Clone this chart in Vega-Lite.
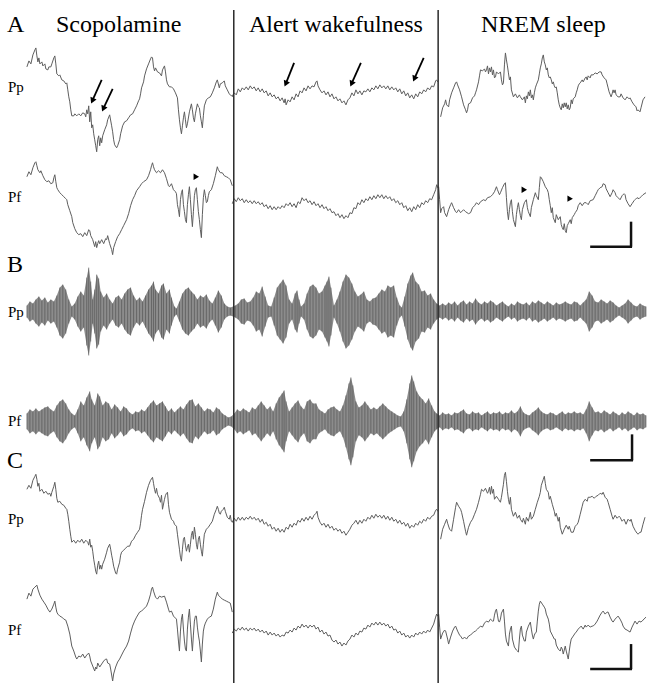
{
"$schema":"https://vega.github.io/schema/vega-lite/v6.json",
"width":648,"height":684,"padding":0,
"autosize":{"type":"fit","contains":"padding"},
"config":{"view":{"stroke":null},"background":"white"},
"datasets":{
"div":[{"x":234.5,"y":10,"y2":684},{"x":439.5,"y":10,"y2":684}],
"bars":[{"x":633,"y":222,"x2":633,"y2":247},{"x":592,"y":247,"x2":634,"y2":247},{"x":634,"y":435,"x2":634,"y2":461},{"x":592,"y":461,"x2":635,"y2":461},{"x":633,"y":645,"x2":633,"y2":670},{"x":592,"y":670,"x2":634,"y2":670}],
"arrows":[{"x":102,"y":80,"x2":93,"y2":100},{"x":113,"y":89,"x2":104,"y2":108},{"x":295,"y":63,"x2":287,"y2":83},{"x":362,"y":63,"x2":353,"y2":83},{"x":425,"y":58,"x2":416,"y2":78}],
"heads":[{"x":196,"y":177},{"x":525,"y":190},{"x":571,"y":199}],
"titles":[{"t":"Scopolamine","x":119,"y":32},{"t":"Alert wakefulness","x":337,"y":32},{"t":"NREM sleep","x":545,"y":32}],
"letters":[{"t":"A","x":7,"y":32},{"t":"B","x":7,"y":272},{"t":"C","x":7,"y":469}],
"chans":[{"t":"Pp","x":8,"y":92},{"t":"Pf","x":8,"y":202},{"t":"Pp","x":8,"y":317},{"t":"Pf","x":8,"y":427},{"t":"Pp","x":8,"y":525},{"t":"Pf","x":8,"y":636}],
"band":[
{"s":"Pp","x":27,"t":306,"b":318},{"s":"Pp","x":30,"t":302,"b":322},{"s":"Pp","x":33,"t":304,"b":320},{"s":"Pp","x":36,"t":300,"b":324},{"s":"Pp","x":39,"t":297,"b":327},{"s":"Pp","x":42,"t":301,"b":323},{"s":"Pp","x":45,"t":298,"b":326},{"s":"Pp","x":48,"t":303,"b":321},{"s":"Pp","x":51,"t":300,"b":324},{"s":"Pp","x":54,"t":302,"b":322},{"s":"Pp","x":57,"t":296,"b":328},{"s":"Pp","x":60,"t":288,"b":336},{"s":"Pp","x":63,"t":285,"b":339},{"s":"Pp","x":66,"t":290,"b":334},{"s":"Pp","x":69,"t":300,"b":324},{"s":"Pp","x":72,"t":307,"b":317},{"s":"Pp","x":75,"t":304,"b":320},{"s":"Pp","x":78,"t":297,"b":327},{"s":"Pp","x":81,"t":292,"b":332},{"s":"Pp","x":84,"t":296,"b":328},{"s":"Pp","x":87,"t":278,"b":346},{"s":"Pp","x":89,"t":268,"b":356},{"s":"Pp","x":91,"t":282,"b":342},{"s":"Pp","x":93,"t":300,"b":324},{"s":"Pp","x":95,"t":290,"b":334},{"s":"Pp","x":97,"t":275,"b":349},{"s":"Pp","x":99,"t":279,"b":345},{"s":"Pp","x":101,"t":292,"b":332},{"s":"Pp","x":104,"t":298,"b":326},{"s":"Pp","x":107,"t":294,"b":330},{"s":"Pp","x":110,"t":300,"b":324},{"s":"Pp","x":113,"t":304,"b":320},{"s":"Pp","x":116,"t":298,"b":326},{"s":"Pp","x":119,"t":296,"b":328},{"s":"Pp","x":122,"t":300,"b":324},{"s":"Pp","x":125,"t":294,"b":330},{"s":"Pp","x":128,"t":290,"b":334},{"s":"Pp","x":131,"t":288,"b":336},{"s":"Pp","x":134,"t":296,"b":328},{"s":"Pp","x":137,"t":301,"b":323},{"s":"Pp","x":140,"t":298,"b":326},{"s":"Pp","x":143,"t":302,"b":322},{"s":"Pp","x":146,"t":296,"b":328},{"s":"Pp","x":149,"t":290,"b":334},{"s":"Pp","x":152,"t":286,"b":338},{"s":"Pp","x":154,"t":282,"b":342},{"s":"Pp","x":156,"t":290,"b":334},{"s":"Pp","x":159,"t":294,"b":330},{"s":"Pp","x":162,"t":286,"b":338},{"s":"Pp","x":164,"t":284,"b":340},{"s":"Pp","x":167,"t":294,"b":330},{"s":"Pp","x":170,"t":290,"b":334},{"s":"Pp","x":172,"t":298,"b":326},{"s":"Pp","x":175,"t":307,"b":317},{"s":"Pp","x":177,"t":309,"b":315},{"s":"Pp","x":180,"t":302,"b":322},{"s":"Pp","x":183,"t":294,"b":330},{"s":"Pp","x":186,"t":290,"b":334},{"s":"Pp","x":189,"t":288,"b":336},{"s":"Pp","x":192,"t":292,"b":332},{"s":"Pp","x":195,"t":295,"b":329},{"s":"Pp","x":198,"t":300,"b":324},{"s":"Pp","x":201,"t":296,"b":328},{"s":"Pp","x":204,"t":298,"b":326},{"s":"Pp","x":207,"t":295,"b":329},{"s":"Pp","x":210,"t":301,"b":323},{"s":"Pp","x":213,"t":304,"b":320},{"s":"Pp","x":216,"t":298,"b":326},{"s":"Pp","x":219,"t":291,"b":333},{"s":"Pp","x":222,"t":296,"b":328},{"s":"Pp","x":225,"t":304,"b":320},{"s":"Pp","x":228,"t":307,"b":317},{"s":"Pp","x":231,"t":308,"b":316},{"s":"Pp","x":234,"t":307,"b":317},
{"s":"Pp","x":236,"t":306,"b":318},{"s":"Pp","x":239,"t":304,"b":320},{"s":"Pp","x":242,"t":300,"b":324},{"s":"Pp","x":245,"t":299,"b":325},{"s":"Pp","x":248,"t":303,"b":321},{"s":"Pp","x":251,"t":302,"b":322},{"s":"Pp","x":254,"t":298,"b":326},{"s":"Pp","x":257,"t":292,"b":332},{"s":"Pp","x":260,"t":294,"b":330},{"s":"Pp","x":263,"t":287,"b":337},{"s":"Pp","x":266,"t":297,"b":327},{"s":"Pp","x":269,"t":306,"b":318},{"s":"Pp","x":272,"t":307,"b":317},{"s":"Pp","x":275,"t":298,"b":326},{"s":"Pp","x":278,"t":288,"b":336},{"s":"Pp","x":281,"t":284,"b":340},{"s":"Pp","x":284,"t":280,"b":344},{"s":"Pp","x":287,"t":286,"b":338},{"s":"Pp","x":290,"t":300,"b":324},{"s":"Pp","x":293,"t":304,"b":320},{"s":"Pp","x":296,"t":294,"b":330},{"s":"Pp","x":298,"t":291,"b":333},{"s":"Pp","x":300,"t":300,"b":324},{"s":"Pp","x":302,"t":307,"b":317},{"s":"Pp","x":305,"t":304,"b":320},{"s":"Pp","x":308,"t":294,"b":330},{"s":"Pp","x":311,"t":287,"b":337},{"s":"Pp","x":314,"t":285,"b":339},{"s":"Pp","x":317,"t":288,"b":336},{"s":"Pp","x":320,"t":294,"b":330},{"s":"Pp","x":323,"t":292,"b":332},{"s":"Pp","x":326,"t":286,"b":338},{"s":"Pp","x":328,"t":282,"b":342},{"s":"Pp","x":330,"t":277,"b":347},{"s":"Pp","x":332,"t":288,"b":336},{"s":"Pp","x":335,"t":306,"b":318},{"s":"Pp","x":338,"t":300,"b":324},{"s":"Pp","x":341,"t":292,"b":332},{"s":"Pp","x":344,"t":282,"b":342},{"s":"Pp","x":347,"t":275,"b":349},{"s":"Pp","x":350,"t":278,"b":346},{"s":"Pp","x":353,"t":284,"b":340},{"s":"Pp","x":356,"t":292,"b":332},{"s":"Pp","x":359,"t":297,"b":327},{"s":"Pp","x":362,"t":295,"b":329},{"s":"Pp","x":365,"t":292,"b":332},{"s":"Pp","x":368,"t":300,"b":324},{"s":"Pp","x":371,"t":302,"b":322},{"s":"Pp","x":374,"t":299,"b":325},{"s":"Pp","x":377,"t":298,"b":326},{"s":"Pp","x":380,"t":294,"b":330},{"s":"Pp","x":383,"t":290,"b":334},{"s":"Pp","x":386,"t":292,"b":332},{"s":"Pp","x":389,"t":286,"b":338},{"s":"Pp","x":392,"t":288,"b":336},{"s":"Pp","x":395,"t":286,"b":338},{"s":"Pp","x":398,"t":298,"b":326},{"s":"Pp","x":401,"t":306,"b":318},{"s":"Pp","x":403,"t":308,"b":316},{"s":"Pp","x":406,"t":297,"b":327},{"s":"Pp","x":409,"t":284,"b":340},{"s":"Pp","x":412,"t":276,"b":348},{"s":"Pp","x":414,"t":273,"b":351},{"s":"Pp","x":417,"t":282,"b":342},{"s":"Pp","x":420,"t":285,"b":339},{"s":"Pp","x":423,"t":292,"b":332},{"s":"Pp","x":426,"t":291,"b":333},{"s":"Pp","x":429,"t":296,"b":328},{"s":"Pp","x":432,"t":294,"b":330},{"s":"Pp","x":435,"t":300,"b":324},{"s":"Pp","x":438,"t":304,"b":320},
{"s":"Pp","x":441,"t":306,"b":318},{"s":"Pp","x":444,"t":304,"b":320},{"s":"Pp","x":447,"t":306,"b":318},{"s":"Pp","x":450,"t":303,"b":321},{"s":"Pp","x":453,"t":305,"b":319},{"s":"Pp","x":456,"t":302,"b":322},{"s":"Pp","x":459,"t":306,"b":318},{"s":"Pp","x":462,"t":303,"b":321},{"s":"Pp","x":465,"t":301,"b":323},{"s":"Pp","x":468,"t":305,"b":319},{"s":"Pp","x":471,"t":302,"b":322},{"s":"Pp","x":474,"t":304,"b":320},{"s":"Pp","x":477,"t":299,"b":325},{"s":"Pp","x":480,"t":303,"b":321},{"s":"Pp","x":483,"t":305,"b":319},{"s":"Pp","x":486,"t":302,"b":322},{"s":"Pp","x":489,"t":304,"b":320},{"s":"Pp","x":492,"t":301,"b":323},{"s":"Pp","x":495,"t":303,"b":321},{"s":"Pp","x":498,"t":306,"b":318},{"s":"Pp","x":501,"t":304,"b":320},{"s":"Pp","x":504,"t":302,"b":322},{"s":"Pp","x":507,"t":305,"b":319},{"s":"Pp","x":510,"t":307,"b":317},{"s":"Pp","x":513,"t":304,"b":320},{"s":"Pp","x":516,"t":306,"b":318},{"s":"Pp","x":519,"t":302,"b":322},{"s":"Pp","x":522,"t":304,"b":320},{"s":"Pp","x":525,"t":305,"b":319},{"s":"Pp","x":528,"t":303,"b":321},{"s":"Pp","x":531,"t":306,"b":318},{"s":"Pp","x":534,"t":302,"b":322},{"s":"Pp","x":537,"t":304,"b":320},{"s":"Pp","x":540,"t":301,"b":323},{"s":"Pp","x":543,"t":303,"b":321},{"s":"Pp","x":546,"t":305,"b":319},{"s":"Pp","x":549,"t":302,"b":322},{"s":"Pp","x":552,"t":304,"b":320},{"s":"Pp","x":555,"t":306,"b":318},{"s":"Pp","x":558,"t":303,"b":321},{"s":"Pp","x":561,"t":305,"b":319},{"s":"Pp","x":564,"t":304,"b":320},{"s":"Pp","x":567,"t":302,"b":322},{"s":"Pp","x":570,"t":304,"b":320},{"s":"Pp","x":573,"t":305,"b":319},{"s":"Pp","x":576,"t":302,"b":322},{"s":"Pp","x":579,"t":303,"b":321},{"s":"Pp","x":582,"t":306,"b":318},{"s":"Pp","x":585,"t":303,"b":321},{"s":"Pp","x":588,"t":300,"b":324},{"s":"Pp","x":591,"t":292,"b":332},{"s":"Pp","x":594,"t":296,"b":328},{"s":"Pp","x":597,"t":302,"b":322},{"s":"Pp","x":600,"t":303,"b":321},{"s":"Pp","x":603,"t":300,"b":324},{"s":"Pp","x":606,"t":302,"b":322},{"s":"Pp","x":609,"t":304,"b":320},{"s":"Pp","x":612,"t":301,"b":323},{"s":"Pp","x":615,"t":303,"b":321},{"s":"Pp","x":618,"t":306,"b":318},{"s":"Pp","x":621,"t":308,"b":316},{"s":"Pp","x":624,"t":306,"b":318},{"s":"Pp","x":627,"t":304,"b":320},{"s":"Pp","x":630,"t":300,"b":324},{"s":"Pp","x":633,"t":303,"b":321},{"s":"Pp","x":636,"t":306,"b":318},{"s":"Pp","x":639,"t":307,"b":317},{"s":"Pp","x":642,"t":304,"b":320},{"s":"Pp","x":645,"t":306,"b":318},{"s":"Pp","x":648,"t":307,"b":317},
{"s":"Pf","x":27,"t":414,"b":430},{"s":"Pf","x":30,"t":410,"b":434},{"s":"Pf","x":33,"t":412,"b":432},{"s":"Pf","x":36,"t":409,"b":435},{"s":"Pf","x":39,"t":412,"b":432},{"s":"Pf","x":42,"t":410,"b":434},{"s":"Pf","x":45,"t":408,"b":436},{"s":"Pf","x":48,"t":407,"b":437},{"s":"Pf","x":51,"t":410,"b":434},{"s":"Pf","x":54,"t":412,"b":432},{"s":"Pf","x":57,"t":406,"b":438},{"s":"Pf","x":60,"t":402,"b":442},{"s":"Pf","x":63,"t":400,"b":444},{"s":"Pf","x":66,"t":404,"b":440},{"s":"Pf","x":69,"t":410,"b":434},{"s":"Pf","x":72,"t":414,"b":430},{"s":"Pf","x":75,"t":416,"b":428},{"s":"Pf","x":78,"t":410,"b":434},{"s":"Pf","x":81,"t":402,"b":442},{"s":"Pf","x":84,"t":406,"b":438},{"s":"Pf","x":87,"t":398,"b":446},{"s":"Pf","x":90,"t":392,"b":452},{"s":"Pf","x":92,"t":400,"b":444},{"s":"Pf","x":95,"t":406,"b":438},{"s":"Pf","x":98,"t":394,"b":450},{"s":"Pf","x":100,"t":397,"b":447},{"s":"Pf","x":103,"t":406,"b":438},{"s":"Pf","x":106,"t":402,"b":442},{"s":"Pf","x":109,"t":404,"b":440},{"s":"Pf","x":112,"t":410,"b":434},{"s":"Pf","x":115,"t":405,"b":439},{"s":"Pf","x":118,"t":408,"b":436},{"s":"Pf","x":121,"t":412,"b":432},{"s":"Pf","x":124,"t":407,"b":437},{"s":"Pf","x":127,"t":409,"b":435},{"s":"Pf","x":130,"t":413,"b":431},{"s":"Pf","x":133,"t":415,"b":429},{"s":"Pf","x":136,"t":412,"b":432},{"s":"Pf","x":139,"t":413,"b":431},{"s":"Pf","x":142,"t":410,"b":434},{"s":"Pf","x":145,"t":412,"b":432},{"s":"Pf","x":148,"t":408,"b":436},{"s":"Pf","x":151,"t":404,"b":440},{"s":"Pf","x":154,"t":401,"b":443},{"s":"Pf","x":157,"t":406,"b":438},{"s":"Pf","x":160,"t":404,"b":440},{"s":"Pf","x":163,"t":402,"b":442},{"s":"Pf","x":166,"t":407,"b":437},{"s":"Pf","x":169,"t":412,"b":432},{"s":"Pf","x":172,"t":409,"b":435},{"s":"Pf","x":175,"t":413,"b":431},{"s":"Pf","x":178,"t":410,"b":434},{"s":"Pf","x":181,"t":407,"b":437},{"s":"Pf","x":184,"t":410,"b":434},{"s":"Pf","x":187,"t":405,"b":439},{"s":"Pf","x":190,"t":401,"b":443},{"s":"Pf","x":193,"t":400,"b":444},{"s":"Pf","x":196,"t":407,"b":437},{"s":"Pf","x":199,"t":404,"b":440},{"s":"Pf","x":202,"t":408,"b":436},{"s":"Pf","x":205,"t":412,"b":432},{"s":"Pf","x":208,"t":409,"b":435},{"s":"Pf","x":211,"t":410,"b":434},{"s":"Pf","x":214,"t":413,"b":431},{"s":"Pf","x":217,"t":408,"b":436},{"s":"Pf","x":220,"t":410,"b":434},{"s":"Pf","x":223,"t":414,"b":430},{"s":"Pf","x":226,"t":416,"b":428},{"s":"Pf","x":229,"t":418,"b":426},{"s":"Pf","x":232,"t":417,"b":427},
{"s":"Pf","x":235,"t":414,"b":430},{"s":"Pf","x":238,"t":410,"b":434},{"s":"Pf","x":241,"t":412,"b":432},{"s":"Pf","x":244,"t":409,"b":435},{"s":"Pf","x":247,"t":411,"b":433},{"s":"Pf","x":250,"t":413,"b":431},{"s":"Pf","x":253,"t":408,"b":436},{"s":"Pf","x":256,"t":410,"b":434},{"s":"Pf","x":259,"t":406,"b":438},{"s":"Pf","x":262,"t":402,"b":442},{"s":"Pf","x":265,"t":406,"b":438},{"s":"Pf","x":268,"t":410,"b":434},{"s":"Pf","x":271,"t":407,"b":437},{"s":"Pf","x":274,"t":412,"b":432},{"s":"Pf","x":277,"t":404,"b":440},{"s":"Pf","x":280,"t":398,"b":446},{"s":"Pf","x":283,"t":394,"b":450},{"s":"Pf","x":285,"t":391,"b":453},{"s":"Pf","x":287,"t":402,"b":442},{"s":"Pf","x":290,"t":412,"b":432},{"s":"Pf","x":293,"t":408,"b":436},{"s":"Pf","x":296,"t":404,"b":440},{"s":"Pf","x":299,"t":401,"b":443},{"s":"Pf","x":302,"t":407,"b":437},{"s":"Pf","x":305,"t":410,"b":434},{"s":"Pf","x":308,"t":402,"b":442},{"s":"Pf","x":311,"t":400,"b":444},{"s":"Pf","x":314,"t":404,"b":440},{"s":"Pf","x":317,"t":404,"b":440},{"s":"Pf","x":320,"t":410,"b":434},{"s":"Pf","x":323,"t":412,"b":432},{"s":"Pf","x":326,"t":414,"b":430},{"s":"Pf","x":329,"t":410,"b":434},{"s":"Pf","x":332,"t":408,"b":436},{"s":"Pf","x":335,"t":407,"b":437},{"s":"Pf","x":338,"t":410,"b":434},{"s":"Pf","x":341,"t":412,"b":432},{"s":"Pf","x":344,"t":406,"b":438},{"s":"Pf","x":347,"t":396,"b":448},{"s":"Pf","x":350,"t":384,"b":460},{"s":"Pf","x":352,"t":378,"b":466},{"s":"Pf","x":354,"t":386,"b":458},{"s":"Pf","x":357,"t":402,"b":442},{"s":"Pf","x":360,"t":408,"b":436},{"s":"Pf","x":363,"t":406,"b":438},{"s":"Pf","x":366,"t":402,"b":442},{"s":"Pf","x":369,"t":406,"b":438},{"s":"Pf","x":372,"t":410,"b":434},{"s":"Pf","x":375,"t":408,"b":436},{"s":"Pf","x":378,"t":410,"b":434},{"s":"Pf","x":381,"t":407,"b":437},{"s":"Pf","x":384,"t":404,"b":440},{"s":"Pf","x":387,"t":407,"b":437},{"s":"Pf","x":390,"t":410,"b":434},{"s":"Pf","x":393,"t":412,"b":432},{"s":"Pf","x":396,"t":414,"b":430},{"s":"Pf","x":399,"t":416,"b":428},{"s":"Pf","x":402,"t":417,"b":427},{"s":"Pf","x":405,"t":412,"b":432},{"s":"Pf","x":408,"t":400,"b":444},{"s":"Pf","x":411,"t":384,"b":460},{"s":"Pf","x":413,"t":376,"b":468},{"s":"Pf","x":415,"t":382,"b":462},{"s":"Pf","x":418,"t":392,"b":452},{"s":"Pf","x":421,"t":397,"b":447},{"s":"Pf","x":424,"t":400,"b":444},{"s":"Pf","x":427,"t":404,"b":440},{"s":"Pf","x":430,"t":399,"b":445},{"s":"Pf","x":433,"t":406,"b":438},{"s":"Pf","x":436,"t":412,"b":432},{"s":"Pf","x":438,"t":414,"b":430},
{"s":"Pf","x":441,"t":416,"b":428},{"s":"Pf","x":444,"t":413,"b":431},{"s":"Pf","x":447,"t":415,"b":429},{"s":"Pf","x":450,"t":414,"b":430},{"s":"Pf","x":453,"t":416,"b":428},{"s":"Pf","x":456,"t":413,"b":431},{"s":"Pf","x":459,"t":414,"b":430},{"s":"Pf","x":462,"t":412,"b":432},{"s":"Pf","x":465,"t":410,"b":434},{"s":"Pf","x":468,"t":414,"b":430},{"s":"Pf","x":471,"t":415,"b":429},{"s":"Pf","x":474,"t":412,"b":432},{"s":"Pf","x":477,"t":414,"b":430},{"s":"Pf","x":480,"t":413,"b":431},{"s":"Pf","x":483,"t":416,"b":428},{"s":"Pf","x":486,"t":414,"b":430},{"s":"Pf","x":489,"t":412,"b":432},{"s":"Pf","x":492,"t":415,"b":429},{"s":"Pf","x":495,"t":413,"b":431},{"s":"Pf","x":498,"t":414,"b":430},{"s":"Pf","x":501,"t":412,"b":432},{"s":"Pf","x":504,"t":415,"b":429},{"s":"Pf","x":507,"t":413,"b":431},{"s":"Pf","x":510,"t":414,"b":430},{"s":"Pf","x":513,"t":411,"b":433},{"s":"Pf","x":516,"t":414,"b":430},{"s":"Pf","x":519,"t":412,"b":432},{"s":"Pf","x":522,"t":407,"b":437},{"s":"Pf","x":525,"t":413,"b":431},{"s":"Pf","x":528,"t":415,"b":429},{"s":"Pf","x":531,"t":416,"b":428},{"s":"Pf","x":534,"t":413,"b":431},{"s":"Pf","x":537,"t":411,"b":433},{"s":"Pf","x":540,"t":408,"b":436},{"s":"Pf","x":543,"t":412,"b":432},{"s":"Pf","x":546,"t":414,"b":430},{"s":"Pf","x":549,"t":415,"b":429},{"s":"Pf","x":552,"t":413,"b":431},{"s":"Pf","x":555,"t":414,"b":430},{"s":"Pf","x":558,"t":416,"b":428},{"s":"Pf","x":561,"t":414,"b":430},{"s":"Pf","x":564,"t":412,"b":432},{"s":"Pf","x":567,"t":415,"b":429},{"s":"Pf","x":570,"t":413,"b":431},{"s":"Pf","x":573,"t":414,"b":430},{"s":"Pf","x":576,"t":412,"b":432},{"s":"Pf","x":579,"t":414,"b":430},{"s":"Pf","x":582,"t":413,"b":431},{"s":"Pf","x":585,"t":415,"b":429},{"s":"Pf","x":588,"t":410,"b":434},{"s":"Pf","x":591,"t":402,"b":442},{"s":"Pf","x":594,"t":408,"b":436},{"s":"Pf","x":597,"t":413,"b":431},{"s":"Pf","x":600,"t":412,"b":432},{"s":"Pf","x":603,"t":414,"b":430},{"s":"Pf","x":606,"t":411,"b":433},{"s":"Pf","x":609,"t":413,"b":431},{"s":"Pf","x":612,"t":415,"b":429},{"s":"Pf","x":615,"t":412,"b":432},{"s":"Pf","x":618,"t":414,"b":430},{"s":"Pf","x":621,"t":416,"b":428},{"s":"Pf","x":624,"t":413,"b":431},{"s":"Pf","x":627,"t":415,"b":429},{"s":"Pf","x":630,"t":412,"b":432},{"s":"Pf","x":633,"t":414,"b":430},{"s":"Pf","x":636,"t":416,"b":428},{"s":"Pf","x":639,"t":413,"b":431},{"s":"Pf","x":642,"t":415,"b":429},{"s":"Pf","x":645,"t":414,"b":430},{"s":"Pf","x":648,"t":416,"b":428}
],
"tr":[
{"s":"APpS","x":27,"y":67},{"s":"APpS","x":29,"y":61},{"s":"APpS","x":31,"y":64},{"s":"APpS","x":33,"y":55},{"s":"APpS","x":35,"y":50},{"s":"APpS","x":36,"y":48},{"s":"APpS","x":37,"y":56},{"s":"APpS","x":38,"y":62},{"s":"APpS","x":39,"y":58},{"s":"APpS","x":40,"y":64},{"s":"APpS","x":42,"y":62},{"s":"APpS","x":43,"y":66},{"s":"APpS","x":45,"y":64},{"s":"APpS","x":46,"y":69},{"s":"APpS","x":48,"y":70},{"s":"APpS","x":49,"y":67},{"s":"APpS","x":51,"y":67},{"s":"APpS","x":52,"y":64},{"s":"APpS","x":54,"y":58},{"s":"APpS","x":55,"y":56},{"s":"APpS","x":56,"y":64},{"s":"APpS","x":57,"y":74},{"s":"APpS","x":59,"y":76},{"s":"APpS","x":60,"y":75},{"s":"APpS","x":62,"y":80},{"s":"APpS","x":64,"y":81},{"s":"APpS","x":66,"y":84},{"s":"APpS","x":67,"y":83},{"s":"APpS","x":68,"y":90},{"s":"APpS","x":69,"y":97},{"s":"APpS","x":70,"y":102},{"s":"APpS","x":71,"y":110},{"s":"APpS","x":72,"y":116},{"s":"APpS","x":74,"y":116},{"s":"APpS","x":75,"y":114},{"s":"APpS","x":77,"y":116},{"s":"APpS","x":79,"y":114},{"s":"APpS","x":81,"y":116},{"s":"APpS","x":83,"y":113},{"s":"APpS","x":85,"y":114},{"s":"APpS","x":86,"y":117},{"s":"APpS","x":87,"y":110},{"s":"APpS","x":88,"y":114},{"s":"APpS","x":89,"y":106},{"s":"APpS","x":90,"y":122},{"s":"APpS","x":91,"y":112},{"s":"APpS","x":92,"y":128},{"s":"APpS","x":93,"y":125},{"s":"APpS","x":94,"y":134},{"s":"APpS","x":95,"y":140},{"s":"APpS","x":96,"y":146},{"s":"APpS","x":97,"y":152},{"s":"APpS","x":98,"y":140},{"s":"APpS","x":99,"y":136},{"s":"APpS","x":100,"y":146},{"s":"APpS","x":101,"y":138},{"s":"APpS","x":102,"y":143},{"s":"APpS","x":103,"y":136},{"s":"APpS","x":105,"y":130},{"s":"APpS","x":107,"y":125},{"s":"APpS","x":108,"y":120},{"s":"APpS","x":110,"y":115},{"s":"APpS","x":112,"y":126},{"s":"APpS","x":113,"y":132},{"s":"APpS","x":114,"y":140},{"s":"APpS","x":115,"y":145},{"s":"APpS","x":117,"y":148},{"s":"APpS","x":118,"y":146},{"s":"APpS","x":120,"y":140},{"s":"APpS","x":121,"y":134},{"s":"APpS","x":123,"y":126},{"s":"APpS","x":125,"y":122},{"s":"APpS","x":127,"y":121},{"s":"APpS","x":129,"y":118},{"s":"APpS","x":131,"y":115},{"s":"APpS","x":133,"y":114},{"s":"APpS","x":135,"y":110},{"s":"APpS","x":137,"y":106},{"s":"APpS","x":139,"y":101},{"s":"APpS","x":140,"y":99},{"s":"APpS","x":141,"y":94},{"s":"APpS","x":142,"y":88},{"s":"APpS","x":144,"y":82},{"s":"APpS","x":145,"y":76},{"s":"APpS","x":147,"y":69},{"s":"APpS","x":149,"y":64},{"s":"APpS","x":151,"y":59},{"s":"APpS","x":152,"y":57},{"s":"APpS","x":153,"y":58},{"s":"APpS","x":154,"y":67},{"s":"APpS","x":155,"y":71},{"s":"APpS","x":156,"y":68},{"s":"APpS","x":158,"y":72},{"s":"APpS","x":160,"y":73},{"s":"APpS","x":162,"y":76},{"s":"APpS","x":163,"y":70},{"s":"APpS","x":165,"y":66},{"s":"APpS","x":166,"y":72},{"s":"APpS","x":167,"y":80},{"s":"APpS","x":168,"y":84},{"s":"APpS","x":170,"y":87},{"s":"APpS","x":172,"y":87},{"s":"APpS","x":174,"y":89},{"s":"APpS","x":176,"y":93},{"s":"APpS","x":178,"y":98},{"s":"APpS","x":179,"y":110},{"s":"APpS","x":180,"y":120},{"s":"APpS","x":181,"y":128},{"s":"APpS","x":182,"y":134},{"s":"APpS","x":183,"y":126},{"s":"APpS","x":184,"y":118},{"s":"APpS","x":185,"y":112},{"s":"APpS","x":186,"y":120},{"s":"APpS","x":187,"y":128},{"s":"APpS","x":188,"y":124},{"s":"APpS","x":190,"y":112},{"s":"APpS","x":192,"y":104},{"s":"APpS","x":193,"y":110},{"s":"APpS","x":194,"y":118},{"s":"APpS","x":195,"y":122},{"s":"APpS","x":196,"y":114},{"s":"APpS","x":198,"y":104},{"s":"APpS","x":199,"y":107},{"s":"APpS","x":200,"y":108},{"s":"APpS","x":201,"y":116},{"s":"APpS","x":202,"y":122},{"s":"APpS","x":203,"y":128},{"s":"APpS","x":204,"y":116},{"s":"APpS","x":205,"y":106},{"s":"APpS","x":207,"y":100},{"s":"APpS","x":209,"y":98},{"s":"APpS","x":211,"y":97},{"s":"APpS","x":213,"y":93},{"s":"APpS","x":215,"y":88},{"s":"APpS","x":217,"y":82},{"s":"APpS","x":218,"y":80},{"s":"APpS","x":220,"y":88},{"s":"APpS","x":221,"y":84},{"s":"APpS","x":223,"y":83},{"s":"APpS","x":225,"y":81},{"s":"APpS","x":226,"y":86},{"s":"APpS","x":228,"y":90},{"s":"APpS","x":230,"y":94},{"s":"APpS","x":232,"y":96},{"s":"APpS","x":234,"y":95},
{"s":"APfS","x":27,"y":177},{"s":"APfS","x":29,"y":172},{"s":"APfS","x":31,"y":175},{"s":"APfS","x":33,"y":168},{"s":"APfS","x":35,"y":163},{"s":"APfS","x":36,"y":162},{"s":"APfS","x":37,"y":166},{"s":"APfS","x":38,"y":170},{"s":"APfS","x":40,"y":173},{"s":"APfS","x":41,"y":171},{"s":"APfS","x":43,"y":176},{"s":"APfS","x":45,"y":180},{"s":"APfS","x":47,"y":182},{"s":"APfS","x":49,"y":181},{"s":"APfS","x":51,"y":184},{"s":"APfS","x":53,"y":183},{"s":"APfS","x":54,"y":178},{"s":"APfS","x":55,"y":175},{"s":"APfS","x":56,"y":182},{"s":"APfS","x":57,"y":188},{"s":"APfS","x":58,"y":190},{"s":"APfS","x":60,"y":193},{"s":"APfS","x":62,"y":195},{"s":"APfS","x":64,"y":197},{"s":"APfS","x":66,"y":199},{"s":"APfS","x":67,"y":200},{"s":"APfS","x":68,"y":205},{"s":"APfS","x":70,"y":211},{"s":"APfS","x":72,"y":217},{"s":"APfS","x":73,"y":223},{"s":"APfS","x":75,"y":229},{"s":"APfS","x":77,"y":233},{"s":"APfS","x":79,"y":235},{"s":"APfS","x":81,"y":234},{"s":"APfS","x":83,"y":237},{"s":"APfS","x":85,"y":233},{"s":"APfS","x":87,"y":236},{"s":"APfS","x":89,"y":230},{"s":"APfS","x":90,"y":231},{"s":"APfS","x":91,"y":236},{"s":"APfS","x":93,"y":240},{"s":"APfS","x":95,"y":247},{"s":"APfS","x":96,"y":242},{"s":"APfS","x":97,"y":248},{"s":"APfS","x":98,"y":244},{"s":"APfS","x":99,"y":241},{"s":"APfS","x":100,"y":244},{"s":"APfS","x":102,"y":240},{"s":"APfS","x":104,"y":244},{"s":"APfS","x":106,"y":239},{"s":"APfS","x":107,"y":240},{"s":"APfS","x":108,"y":236},{"s":"APfS","x":110,"y":244},{"s":"APfS","x":112,"y":250},{"s":"APfS","x":113,"y":255},{"s":"APfS","x":114,"y":248},{"s":"APfS","x":116,"y":242},{"s":"APfS","x":118,"y":237},{"s":"APfS","x":120,"y":234},{"s":"APfS","x":122,"y":230},{"s":"APfS","x":124,"y":226},{"s":"APfS","x":127,"y":220},{"s":"APfS","x":129,"y":214},{"s":"APfS","x":131,"y":206},{"s":"APfS","x":133,"y":200},{"s":"APfS","x":135,"y":196},{"s":"APfS","x":137,"y":191},{"s":"APfS","x":140,"y":187},{"s":"APfS","x":142,"y":184},{"s":"APfS","x":144,"y":182},{"s":"APfS","x":147,"y":180},{"s":"APfS","x":149,"y":176},{"s":"APfS","x":151,"y":170},{"s":"APfS","x":152,"y":166},{"s":"APfS","x":153,"y":163},{"s":"APfS","x":154,"y":167},{"s":"APfS","x":155,"y":170},{"s":"APfS","x":157,"y":173},{"s":"APfS","x":159,"y":171},{"s":"APfS","x":161,"y":173},{"s":"APfS","x":163,"y":170},{"s":"APfS","x":165,"y":173},{"s":"APfS","x":167,"y":179},{"s":"APfS","x":169,"y":186},{"s":"APfS","x":170,"y":187},{"s":"APfS","x":172,"y":184},{"s":"APfS","x":174,"y":190},{"s":"APfS","x":176,"y":192},{"s":"APfS","x":177,"y":194},{"s":"APfS","x":178,"y":205},{"s":"APfS","x":179,"y":210},{"s":"APfS","x":180,"y":217},{"s":"APfS","x":181,"y":200},{"s":"APfS","x":182,"y":193},{"s":"APfS","x":183,"y":190},{"s":"APfS","x":184,"y":205},{"s":"APfS","x":185,"y":212},{"s":"APfS","x":186,"y":220},{"s":"APfS","x":187,"y":223},{"s":"APfS","x":188,"y":205},{"s":"APfS","x":189,"y":195},{"s":"APfS","x":190,"y":187},{"s":"APfS","x":191,"y":200},{"s":"APfS","x":192,"y":215},{"s":"APfS","x":193,"y":227},{"s":"APfS","x":194,"y":212},{"s":"APfS","x":195,"y":196},{"s":"APfS","x":196,"y":190},{"s":"APfS","x":197,"y":188},{"s":"APfS","x":198,"y":200},{"s":"APfS","x":199,"y":212},{"s":"APfS","x":200,"y":220},{"s":"APfS","x":201,"y":230},{"s":"APfS","x":202,"y":238},{"s":"APfS","x":203,"y":215},{"s":"APfS","x":204,"y":198},{"s":"APfS","x":205,"y":190},{"s":"APfS","x":206,"y":196},{"s":"APfS","x":207,"y":203},{"s":"APfS","x":208,"y":202},{"s":"APfS","x":209,"y":196},{"s":"APfS","x":210,"y":192},{"s":"APfS","x":212,"y":190},{"s":"APfS","x":214,"y":184},{"s":"APfS","x":216,"y":176},{"s":"APfS","x":218,"y":167},{"s":"APfS","x":219,"y":170},{"s":"APfS","x":221,"y":173},{"s":"APfS","x":223,"y":173},{"s":"APfS","x":225,"y":176},{"s":"APfS","x":227,"y":177},{"s":"APfS","x":229,"y":178},{"s":"APfS","x":231,"y":180},{"s":"APfS","x":233,"y":186},
{"s":"APpW","x":233,"y":97},{"s":"APpW","x":235,"y":93},{"s":"APpW","x":237,"y":95},{"s":"APpW","x":239,"y":89},{"s":"APpW","x":241,"y":92},{"s":"APpW","x":243,"y":88},{"s":"APpW","x":245,"y":90},{"s":"APpW","x":247,"y":87},{"s":"APpW","x":249,"y":90},{"s":"APpW","x":251,"y":86},{"s":"APpW","x":253,"y":89},{"s":"APpW","x":255,"y":87},{"s":"APpW","x":257,"y":91},{"s":"APpW","x":259,"y":88},{"s":"APpW","x":261,"y":92},{"s":"APpW","x":263,"y":89},{"s":"APpW","x":265,"y":93},{"s":"APpW","x":267,"y":91},{"s":"APpW","x":269,"y":96},{"s":"APpW","x":271,"y":93},{"s":"APpW","x":273,"y":97},{"s":"APpW","x":275,"y":95},{"s":"APpW","x":277,"y":99},{"s":"APpW","x":279,"y":97},{"s":"APpW","x":281,"y":101},{"s":"APpW","x":283,"y":98},{"s":"APpW","x":285,"y":103},{"s":"APpW","x":286,"y":99},{"s":"APpW","x":287,"y":105},{"s":"APpW","x":289,"y":100},{"s":"APpW","x":291,"y":102},{"s":"APpW","x":293,"y":97},{"s":"APpW","x":295,"y":100},{"s":"APpW","x":297,"y":94},{"s":"APpW","x":299,"y":97},{"s":"APpW","x":301,"y":91},{"s":"APpW","x":303,"y":93},{"s":"APpW","x":305,"y":88},{"s":"APpW","x":307,"y":91},{"s":"APpW","x":309,"y":86},{"s":"APpW","x":311,"y":89},{"s":"APpW","x":313,"y":86},{"s":"APpW","x":315,"y":87},{"s":"APpW","x":317,"y":82},{"s":"APpW","x":318,"y":81},{"s":"APpW","x":319,"y":86},{"s":"APpW","x":321,"y":90},{"s":"APpW","x":323,"y":93},{"s":"APpW","x":325,"y":91},{"s":"APpW","x":327,"y":95},{"s":"APpW","x":329,"y":92},{"s":"APpW","x":331,"y":97},{"s":"APpW","x":333,"y":94},{"s":"APpW","x":335,"y":99},{"s":"APpW","x":337,"y":97},{"s":"APpW","x":339,"y":101},{"s":"APpW","x":341,"y":99},{"s":"APpW","x":343,"y":103},{"s":"APpW","x":345,"y":101},{"s":"APpW","x":347,"y":105},{"s":"APpW","x":349,"y":100},{"s":"APpW","x":351,"y":98},{"s":"APpW","x":353,"y":93},{"s":"APpW","x":355,"y":96},{"s":"APpW","x":357,"y":90},{"s":"APpW","x":359,"y":94},{"s":"APpW","x":361,"y":91},{"s":"APpW","x":363,"y":95},{"s":"APpW","x":365,"y":91},{"s":"APpW","x":367,"y":92},{"s":"APpW","x":369,"y":89},{"s":"APpW","x":371,"y":92},{"s":"APpW","x":373,"y":88},{"s":"APpW","x":375,"y":90},{"s":"APpW","x":377,"y":86},{"s":"APpW","x":379,"y":89},{"s":"APpW","x":381,"y":85},{"s":"APpW","x":383,"y":88},{"s":"APpW","x":385,"y":86},{"s":"APpW","x":387,"y":89},{"s":"APpW","x":389,"y":86},{"s":"APpW","x":391,"y":90},{"s":"APpW","x":393,"y":87},{"s":"APpW","x":395,"y":90},{"s":"APpW","x":397,"y":88},{"s":"APpW","x":399,"y":92},{"s":"APpW","x":401,"y":89},{"s":"APpW","x":403,"y":94},{"s":"APpW","x":405,"y":91},{"s":"APpW","x":407,"y":96},{"s":"APpW","x":409,"y":93},{"s":"APpW","x":411,"y":98},{"s":"APpW","x":413,"y":95},{"s":"APpW","x":415,"y":99},{"s":"APpW","x":417,"y":94},{"s":"APpW","x":419,"y":97},{"s":"APpW","x":421,"y":92},{"s":"APpW","x":423,"y":94},{"s":"APpW","x":425,"y":90},{"s":"APpW","x":427,"y":92},{"s":"APpW","x":429,"y":88},{"s":"APpW","x":431,"y":90},{"s":"APpW","x":433,"y":86},{"s":"APpW","x":435,"y":87},{"s":"APpW","x":437,"y":81},{"s":"APpW","x":438,"y":80},{"s":"APpW","x":439,"y":82},
{"s":"APfW","x":233,"y":204},{"s":"APfW","x":235,"y":199},{"s":"APfW","x":237,"y":202},{"s":"APfW","x":239,"y":198},{"s":"APfW","x":241,"y":201},{"s":"APfW","x":243,"y":199},{"s":"APfW","x":245,"y":203},{"s":"APfW","x":247,"y":200},{"s":"APfW","x":249,"y":203},{"s":"APfW","x":251,"y":201},{"s":"APfW","x":253,"y":204},{"s":"APfW","x":255,"y":201},{"s":"APfW","x":257,"y":204},{"s":"APfW","x":259,"y":202},{"s":"APfW","x":261,"y":205},{"s":"APfW","x":263,"y":203},{"s":"APfW","x":265,"y":207},{"s":"APfW","x":267,"y":205},{"s":"APfW","x":269,"y":209},{"s":"APfW","x":271,"y":206},{"s":"APfW","x":273,"y":210},{"s":"APfW","x":275,"y":207},{"s":"APfW","x":277,"y":210},{"s":"APfW","x":279,"y":207},{"s":"APfW","x":281,"y":209},{"s":"APfW","x":283,"y":206},{"s":"APfW","x":285,"y":208},{"s":"APfW","x":287,"y":204},{"s":"APfW","x":289,"y":206},{"s":"APfW","x":291,"y":203},{"s":"APfW","x":293,"y":207},{"s":"APfW","x":295,"y":204},{"s":"APfW","x":297,"y":208},{"s":"APfW","x":299,"y":202},{"s":"APfW","x":301,"y":204},{"s":"APfW","x":303,"y":198},{"s":"APfW","x":305,"y":201},{"s":"APfW","x":307,"y":199},{"s":"APfW","x":309,"y":203},{"s":"APfW","x":311,"y":201},{"s":"APfW","x":313,"y":205},{"s":"APfW","x":315,"y":202},{"s":"APfW","x":317,"y":206},{"s":"APfW","x":319,"y":204},{"s":"APfW","x":321,"y":208},{"s":"APfW","x":323,"y":205},{"s":"APfW","x":325,"y":209},{"s":"APfW","x":327,"y":207},{"s":"APfW","x":329,"y":211},{"s":"APfW","x":331,"y":209},{"s":"APfW","x":333,"y":213},{"s":"APfW","x":335,"y":212},{"s":"APfW","x":337,"y":216},{"s":"APfW","x":339,"y":214},{"s":"APfW","x":341,"y":218},{"s":"APfW","x":343,"y":215},{"s":"APfW","x":345,"y":219},{"s":"APfW","x":347,"y":216},{"s":"APfW","x":349,"y":218},{"s":"APfW","x":351,"y":213},{"s":"APfW","x":353,"y":214},{"s":"APfW","x":355,"y":208},{"s":"APfW","x":357,"y":209},{"s":"APfW","x":359,"y":203},{"s":"APfW","x":361,"y":205},{"s":"APfW","x":363,"y":200},{"s":"APfW","x":365,"y":203},{"s":"APfW","x":367,"y":199},{"s":"APfW","x":369,"y":201},{"s":"APfW","x":371,"y":197},{"s":"APfW","x":373,"y":200},{"s":"APfW","x":375,"y":196},{"s":"APfW","x":377,"y":199},{"s":"APfW","x":379,"y":195},{"s":"APfW","x":381,"y":198},{"s":"APfW","x":383,"y":195},{"s":"APfW","x":385,"y":199},{"s":"APfW","x":387,"y":196},{"s":"APfW","x":389,"y":199},{"s":"APfW","x":391,"y":197},{"s":"APfW","x":393,"y":201},{"s":"APfW","x":395,"y":199},{"s":"APfW","x":397,"y":203},{"s":"APfW","x":399,"y":201},{"s":"APfW","x":401,"y":205},{"s":"APfW","x":403,"y":203},{"s":"APfW","x":405,"y":208},{"s":"APfW","x":407,"y":206},{"s":"APfW","x":409,"y":211},{"s":"APfW","x":411,"y":208},{"s":"APfW","x":413,"y":212},{"s":"APfW","x":415,"y":207},{"s":"APfW","x":417,"y":210},{"s":"APfW","x":419,"y":205},{"s":"APfW","x":421,"y":208},{"s":"APfW","x":423,"y":203},{"s":"APfW","x":425,"y":205},{"s":"APfW","x":427,"y":201},{"s":"APfW","x":429,"y":203},{"s":"APfW","x":431,"y":199},{"s":"APfW","x":433,"y":200},{"s":"APfW","x":435,"y":195},{"s":"APfW","x":437,"y":190},{"s":"APfW","x":438,"y":185},{"s":"APfW","x":439,"y":188},
{"s":"APpN","x":442,"y":117},{"s":"APpN","x":444,"y":108},{"s":"APpN","x":446,"y":104},{"s":"APpN","x":447,"y":100},{"s":"APpN","x":448,"y":105},{"s":"APpN","x":450,"y":107},{"s":"APpN","x":451,"y":100},{"s":"APpN","x":453,"y":93},{"s":"APpN","x":455,"y":88},{"s":"APpN","x":457,"y":83},{"s":"APpN","x":458,"y":82},{"s":"APpN","x":459,"y":85},{"s":"APpN","x":461,"y":90},{"s":"APpN","x":463,"y":97},{"s":"APpN","x":465,"y":105},{"s":"APpN","x":467,"y":110},{"s":"APpN","x":468,"y":113},{"s":"APpN","x":469,"y":110},{"s":"APpN","x":470,"y":104},{"s":"APpN","x":472,"y":103},{"s":"APpN","x":474,"y":98},{"s":"APpN","x":476,"y":96},{"s":"APpN","x":477,"y":93},{"s":"APpN","x":478,"y":90},{"s":"APpN","x":480,"y":82},{"s":"APpN","x":481,"y":76},{"s":"APpN","x":482,"y":70},{"s":"APpN","x":484,"y":71},{"s":"APpN","x":486,"y":69},{"s":"APpN","x":487,"y":72},{"s":"APpN","x":488,"y":70},{"s":"APpN","x":489,"y":66},{"s":"APpN","x":490,"y":74},{"s":"APpN","x":491,"y":68},{"s":"APpN","x":492,"y":72},{"s":"APpN","x":493,"y":67},{"s":"APpN","x":494,"y":75},{"s":"APpN","x":495,"y":70},{"s":"APpN","x":496,"y":78},{"s":"APpN","x":497,"y":77},{"s":"APpN","x":498,"y":72},{"s":"APpN","x":500,"y":74},{"s":"APpN","x":502,"y":72},{"s":"APpN","x":503,"y":80},{"s":"APpN","x":504,"y":85},{"s":"APpN","x":505,"y":83},{"s":"APpN","x":506,"y":65},{"s":"APpN","x":507,"y":53},{"s":"APpN","x":508,"y":60},{"s":"APpN","x":509,"y":66},{"s":"APpN","x":510,"y":73},{"s":"APpN","x":511,"y":80},{"s":"APpN","x":512,"y":77},{"s":"APpN","x":513,"y":90},{"s":"APpN","x":515,"y":97},{"s":"APpN","x":517,"y":94},{"s":"APpN","x":519,"y":98},{"s":"APpN","x":521,"y":95},{"s":"APpN","x":522,"y":97},{"s":"APpN","x":524,"y":100},{"s":"APpN","x":526,"y":97},{"s":"APpN","x":527,"y":103},{"s":"APpN","x":528,"y":96},{"s":"APpN","x":529,"y":99},{"s":"APpN","x":530,"y":92},{"s":"APpN","x":531,"y":96},{"s":"APpN","x":532,"y":90},{"s":"APpN","x":533,"y":98},{"s":"APpN","x":534,"y":95},{"s":"APpN","x":535,"y":100},{"s":"APpN","x":536,"y":93},{"s":"APpN","x":537,"y":88},{"s":"APpN","x":538,"y":85},{"s":"APpN","x":540,"y":80},{"s":"APpN","x":541,"y":74},{"s":"APpN","x":542,"y":68},{"s":"APpN","x":543,"y":64},{"s":"APpN","x":544,"y":58},{"s":"APpN","x":545,"y":55},{"s":"APpN","x":546,"y":62},{"s":"APpN","x":547,"y":65},{"s":"APpN","x":548,"y":70},{"s":"APpN","x":549,"y":68},{"s":"APpN","x":550,"y":75},{"s":"APpN","x":551,"y":78},{"s":"APpN","x":552,"y":77},{"s":"APpN","x":553,"y":80},{"s":"APpN","x":554,"y":84},{"s":"APpN","x":555,"y":82},{"s":"APpN","x":556,"y":86},{"s":"APpN","x":557,"y":88},{"s":"APpN","x":558,"y":87},{"s":"APpN","x":559,"y":93},{"s":"APpN","x":560,"y":100},{"s":"APpN","x":561,"y":105},{"s":"APpN","x":562,"y":108},{"s":"APpN","x":563,"y":110},{"s":"APpN","x":564,"y":104},{"s":"APpN","x":565,"y":108},{"s":"APpN","x":566,"y":103},{"s":"APpN","x":567,"y":107},{"s":"APpN","x":568,"y":103},{"s":"APpN","x":569,"y":109},{"s":"APpN","x":570,"y":105},{"s":"APpN","x":571,"y":110},{"s":"APpN","x":572,"y":108},{"s":"APpN","x":573,"y":100},{"s":"APpN","x":574,"y":104},{"s":"APpN","x":575,"y":99},{"s":"APpN","x":577,"y":97},{"s":"APpN","x":578,"y":93},{"s":"APpN","x":579,"y":90},{"s":"APpN","x":580,"y":86},{"s":"APpN","x":581,"y":84},{"s":"APpN","x":582,"y":83},{"s":"APpN","x":584,"y":80},{"s":"APpN","x":585,"y":82},{"s":"APpN","x":587,"y":78},{"s":"APpN","x":588,"y":77},{"s":"APpN","x":589,"y":80},{"s":"APpN","x":590,"y":76},{"s":"APpN","x":592,"y":78},{"s":"APpN","x":593,"y":75},{"s":"APpN","x":595,"y":75},{"s":"APpN","x":597,"y":73},{"s":"APpN","x":599,"y":74},{"s":"APpN","x":601,"y":72},{"s":"APpN","x":603,"y":72},{"s":"APpN","x":604,"y":75},{"s":"APpN","x":606,"y":78},{"s":"APpN","x":608,"y":80},{"s":"APpN","x":609,"y":84},{"s":"APpN","x":610,"y":88},{"s":"APpN","x":611,"y":92},{"s":"APpN","x":613,"y":97},{"s":"APpN","x":614,"y":94},{"s":"APpN","x":615,"y":90},{"s":"APpN","x":616,"y":93},{"s":"APpN","x":617,"y":90},{"s":"APpN","x":618,"y":95},{"s":"APpN","x":620,"y":97},{"s":"APpN","x":622,"y":97},{"s":"APpN","x":623,"y":94},{"s":"APpN","x":625,"y":98},{"s":"APpN","x":627,"y":100},{"s":"APpN","x":629,"y":97},{"s":"APpN","x":631,"y":99},{"s":"APpN","x":632,"y":98},{"s":"APpN","x":634,"y":102},{"s":"APpN","x":636,"y":105},{"s":"APpN","x":638,"y":107},{"s":"APpN","x":639,"y":111},{"s":"APpN","x":640,"y":110},{"s":"APpN","x":642,"y":112},{"s":"APpN","x":643,"y":108},{"s":"APpN","x":645,"y":100},{"s":"APpN","x":647,"y":97},
{"s":"APfN","x":440,"y":187},{"s":"APfN","x":441,"y":200},{"s":"APfN","x":442,"y":213},{"s":"APfN","x":443,"y":209},{"s":"APfN","x":445,"y":207},{"s":"APfN","x":446,"y":213},{"s":"APfN","x":448,"y":217},{"s":"APfN","x":450,"y":210},{"s":"APfN","x":452,"y":205},{"s":"APfN","x":453,"y":203},{"s":"APfN","x":455,"y":208},{"s":"APfN","x":457,"y":212},{"s":"APfN","x":458,"y":213},{"s":"APfN","x":460,"y":210},{"s":"APfN","x":462,"y":213},{"s":"APfN","x":465,"y":210},{"s":"APfN","x":467,"y":212},{"s":"APfN","x":470,"y":214},{"s":"APfN","x":472,"y":213},{"s":"APfN","x":474,"y":208},{"s":"APfN","x":476,"y":206},{"s":"APfN","x":478,"y":203},{"s":"APfN","x":480,"y":205},{"s":"APfN","x":482,"y":202},{"s":"APfN","x":485,"y":200},{"s":"APfN","x":487,"y":201},{"s":"APfN","x":489,"y":198},{"s":"APfN","x":492,"y":197},{"s":"APfN","x":494,"y":195},{"s":"APfN","x":496,"y":192},{"s":"APfN","x":498,"y":187},{"s":"APfN","x":499,"y":190},{"s":"APfN","x":501,"y":195},{"s":"APfN","x":502,"y":193},{"s":"APfN","x":504,"y":188},{"s":"APfN","x":506,"y":184},{"s":"APfN","x":507,"y":183},{"s":"APfN","x":508,"y":198},{"s":"APfN","x":509,"y":212},{"s":"APfN","x":510,"y":220},{"s":"APfN","x":511,"y":210},{"s":"APfN","x":512,"y":203},{"s":"APfN","x":513,"y":200},{"s":"APfN","x":514,"y":212},{"s":"APfN","x":515,"y":220},{"s":"APfN","x":517,"y":227},{"s":"APfN","x":518,"y":215},{"s":"APfN","x":519,"y":208},{"s":"APfN","x":520,"y":203},{"s":"APfN","x":521,"y":210},{"s":"APfN","x":522,"y":216},{"s":"APfN","x":523,"y":220},{"s":"APfN","x":524,"y":210},{"s":"APfN","x":526,"y":203},{"s":"APfN","x":528,"y":200},{"s":"APfN","x":529,"y":208},{"s":"APfN","x":530,"y":212},{"s":"APfN","x":532,"y":217},{"s":"APfN","x":533,"y":208},{"s":"APfN","x":535,"y":200},{"s":"APfN","x":537,"y":193},{"s":"APfN","x":538,"y":196},{"s":"APfN","x":540,"y":200},{"s":"APfN","x":541,"y":188},{"s":"APfN","x":542,"y":177},{"s":"APfN","x":543,"y":178},{"s":"APfN","x":545,"y":182},{"s":"APfN","x":547,"y":187},{"s":"APfN","x":549,"y":190},{"s":"APfN","x":550,"y":193},{"s":"APfN","x":551,"y":200},{"s":"APfN","x":552,"y":206},{"s":"APfN","x":553,"y":213},{"s":"APfN","x":554,"y":208},{"s":"APfN","x":555,"y":218},{"s":"APfN","x":557,"y":223},{"s":"APfN","x":558,"y":215},{"s":"APfN","x":560,"y":220},{"s":"APfN","x":562,"y":217},{"s":"APfN","x":563,"y":225},{"s":"APfN","x":564,"y":228},{"s":"APfN","x":565,"y":230},{"s":"APfN","x":566,"y":224},{"s":"APfN","x":567,"y":231},{"s":"APfN","x":568,"y":233},{"s":"APfN","x":569,"y":226},{"s":"APfN","x":570,"y":224},{"s":"APfN","x":572,"y":220},{"s":"APfN","x":573,"y":224},{"s":"APfN","x":574,"y":218},{"s":"APfN","x":576,"y":215},{"s":"APfN","x":577,"y":213},{"s":"APfN","x":579,"y":210},{"s":"APfN","x":580,"y":206},{"s":"APfN","x":582,"y":203},{"s":"APfN","x":584,"y":206},{"s":"APfN","x":586,"y":203},{"s":"APfN","x":588,"y":203},{"s":"APfN","x":590,"y":205},{"s":"APfN","x":592,"y":201},{"s":"APfN","x":595,"y":200},{"s":"APfN","x":597,"y":196},{"s":"APfN","x":599,"y":192},{"s":"APfN","x":600,"y":190},{"s":"APfN","x":602,"y":188},{"s":"APfN","x":604,"y":187},{"s":"APfN","x":605,"y":184},{"s":"APfN","x":607,"y":185},{"s":"APfN","x":608,"y":189},{"s":"APfN","x":610,"y":193},{"s":"APfN","x":612,"y":197},{"s":"APfN","x":614,"y":193},{"s":"APfN","x":615,"y":190},{"s":"APfN","x":617,"y":193},{"s":"APfN","x":618,"y":196},{"s":"APfN","x":620,"y":198},{"s":"APfN","x":622,"y":200},{"s":"APfN","x":624,"y":196},{"s":"APfN","x":626,"y":194},{"s":"APfN","x":627,"y":195},{"s":"APfN","x":628,"y":200},{"s":"APfN","x":630,"y":204},{"s":"APfN","x":632,"y":207},{"s":"APfN","x":634,"y":204},{"s":"APfN","x":636,"y":201},{"s":"APfN","x":637,"y":200},{"s":"APfN","x":639,"y":198},{"s":"APfN","x":641,"y":199},{"s":"APfN","x":643,"y":197},{"s":"APfN","x":645,"y":195},{"s":"APfN","x":648,"y":193},
{"s":"CPpS","x":27,"y":490},{"s":"CPpS","x":29,"y":486},{"s":"CPpS","x":31,"y":489},{"s":"CPpS","x":33,"y":481},{"s":"CPpS","x":35,"y":477},{"s":"CPpS","x":36,"y":475},{"s":"CPpS","x":37,"y":480},{"s":"CPpS","x":38,"y":487},{"s":"CPpS","x":39,"y":484},{"s":"CPpS","x":40,"y":492},{"s":"CPpS","x":42,"y":490},{"s":"CPpS","x":44,"y":494},{"s":"CPpS","x":46,"y":492},{"s":"CPpS","x":48,"y":495},{"s":"CPpS","x":50,"y":494},{"s":"CPpS","x":51,"y":497},{"s":"CPpS","x":52,"y":493},{"s":"CPpS","x":54,"y":487},{"s":"CPpS","x":55,"y":483},{"s":"CPpS","x":56,"y":490},{"s":"CPpS","x":57,"y":499},{"s":"CPpS","x":58,"y":503},{"s":"CPpS","x":60,"y":502},{"s":"CPpS","x":62,"y":505},{"s":"CPpS","x":64,"y":506},{"s":"CPpS","x":66,"y":509},{"s":"CPpS","x":67,"y":510},{"s":"CPpS","x":68,"y":515},{"s":"CPpS","x":69,"y":522},{"s":"CPpS","x":70,"y":530},{"s":"CPpS","x":71,"y":537},{"s":"CPpS","x":72,"y":543},{"s":"CPpS","x":74,"y":541},{"s":"CPpS","x":76,"y":544},{"s":"CPpS","x":78,"y":541},{"s":"CPpS","x":80,"y":543},{"s":"CPpS","x":82,"y":540},{"s":"CPpS","x":84,"y":544},{"s":"CPpS","x":86,"y":541},{"s":"CPpS","x":88,"y":543},{"s":"CPpS","x":89,"y":546},{"s":"CPpS","x":90,"y":540},{"s":"CPpS","x":91,"y":548},{"s":"CPpS","x":92,"y":546},{"s":"CPpS","x":93,"y":552},{"s":"CPpS","x":94,"y":560},{"s":"CPpS","x":95,"y":566},{"s":"CPpS","x":96,"y":572},{"s":"CPpS","x":97,"y":575},{"s":"CPpS","x":98,"y":566},{"s":"CPpS","x":99,"y":562},{"s":"CPpS","x":100,"y":570},{"s":"CPpS","x":101,"y":566},{"s":"CPpS","x":102,"y":570},{"s":"CPpS","x":103,"y":565},{"s":"CPpS","x":105,"y":560},{"s":"CPpS","x":107,"y":553},{"s":"CPpS","x":108,"y":549},{"s":"CPpS","x":110,"y":545},{"s":"CPpS","x":111,"y":550},{"s":"CPpS","x":112,"y":556},{"s":"CPpS","x":113,"y":561},{"s":"CPpS","x":114,"y":567},{"s":"CPpS","x":116,"y":574},{"s":"CPpS","x":117,"y":575},{"s":"CPpS","x":118,"y":570},{"s":"CPpS","x":120,"y":563},{"s":"CPpS","x":121,"y":556},{"s":"CPpS","x":122,"y":553},{"s":"CPpS","x":124,"y":551},{"s":"CPpS","x":126,"y":549},{"s":"CPpS","x":128,"y":547},{"s":"CPpS","x":130,"y":547},{"s":"CPpS","x":132,"y":542},{"s":"CPpS","x":134,"y":540},{"s":"CPpS","x":136,"y":536},{"s":"CPpS","x":138,"y":533},{"s":"CPpS","x":140,"y":530},{"s":"CPpS","x":141,"y":524},{"s":"CPpS","x":142,"y":516},{"s":"CPpS","x":143,"y":510},{"s":"CPpS","x":145,"y":502},{"s":"CPpS","x":147,"y":493},{"s":"CPpS","x":149,"y":486},{"s":"CPpS","x":151,"y":481},{"s":"CPpS","x":153,"y":478},{"s":"CPpS","x":154,"y":484},{"s":"CPpS","x":155,"y":490},{"s":"CPpS","x":156,"y":494},{"s":"CPpS","x":157,"y":489},{"s":"CPpS","x":158,"y":495},{"s":"CPpS","x":160,"y":499},{"s":"CPpS","x":161,"y":503},{"s":"CPpS","x":162,"y":496},{"s":"CPpS","x":163,"y":510},{"s":"CPpS","x":165,"y":500},{"s":"CPpS","x":166,"y":496},{"s":"CPpS","x":167,"y":494},{"s":"CPpS","x":168,"y":493},{"s":"CPpS","x":169,"y":505},{"s":"CPpS","x":170,"y":513},{"s":"CPpS","x":172,"y":520},{"s":"CPpS","x":174,"y":522},{"s":"CPpS","x":175,"y":525},{"s":"CPpS","x":177,"y":527},{"s":"CPpS","x":178,"y":535},{"s":"CPpS","x":180,"y":550},{"s":"CPpS","x":181,"y":558},{"s":"CPpS","x":182,"y":562},{"s":"CPpS","x":183,"y":550},{"s":"CPpS","x":184,"y":540},{"s":"CPpS","x":185,"y":538},{"s":"CPpS","x":186,"y":546},{"s":"CPpS","x":187,"y":552},{"s":"CPpS","x":188,"y":548},{"s":"CPpS","x":189,"y":545},{"s":"CPpS","x":190,"y":553},{"s":"CPpS","x":191,"y":545},{"s":"CPpS","x":192,"y":536},{"s":"CPpS","x":193,"y":532},{"s":"CPpS","x":194,"y":540},{"s":"CPpS","x":195,"y":528},{"s":"CPpS","x":196,"y":535},{"s":"CPpS","x":197,"y":545},{"s":"CPpS","x":198,"y":550},{"s":"CPpS","x":199,"y":540},{"s":"CPpS","x":200,"y":537},{"s":"CPpS","x":201,"y":545},{"s":"CPpS","x":202,"y":552},{"s":"CPpS","x":203,"y":557},{"s":"CPpS","x":204,"y":545},{"s":"CPpS","x":205,"y":535},{"s":"CPpS","x":207,"y":530},{"s":"CPpS","x":209,"y":528},{"s":"CPpS","x":211,"y":525},{"s":"CPpS","x":213,"y":522},{"s":"CPpS","x":215,"y":515},{"s":"CPpS","x":217,"y":510},{"s":"CPpS","x":218,"y":507},{"s":"CPpS","x":219,"y":510},{"s":"CPpS","x":220,"y":514},{"s":"CPpS","x":221,"y":515},{"s":"CPpS","x":222,"y":512},{"s":"CPpS","x":224,"y":510},{"s":"CPpS","x":225,"y":508},{"s":"CPpS","x":226,"y":512},{"s":"CPpS","x":228,"y":518},{"s":"CPpS","x":230,"y":520},{"s":"CPpS","x":231,"y":516},{"s":"CPpS","x":232,"y":522},{"s":"CPpS","x":234,"y":523},
{"s":"CPfS","x":27,"y":600},{"s":"CPfS","x":29,"y":594},{"s":"CPfS","x":31,"y":597},{"s":"CPfS","x":33,"y":590},{"s":"CPfS","x":35,"y":588},{"s":"CPfS","x":37,"y":586},{"s":"CPfS","x":38,"y":590},{"s":"CPfS","x":40,"y":596},{"s":"CPfS","x":42,"y":600},{"s":"CPfS","x":44,"y":603},{"s":"CPfS","x":46,"y":606},{"s":"CPfS","x":48,"y":610},{"s":"CPfS","x":50,"y":613},{"s":"CPfS","x":52,"y":610},{"s":"CPfS","x":54,"y":605},{"s":"CPfS","x":55,"y":602},{"s":"CPfS","x":56,"y":608},{"s":"CPfS","x":57,"y":613},{"s":"CPfS","x":58,"y":615},{"s":"CPfS","x":60,"y":617},{"s":"CPfS","x":62,"y":618},{"s":"CPfS","x":64,"y":620},{"s":"CPfS","x":66,"y":621},{"s":"CPfS","x":68,"y":627},{"s":"CPfS","x":70,"y":635},{"s":"CPfS","x":72,"y":647},{"s":"CPfS","x":74,"y":652},{"s":"CPfS","x":76,"y":658},{"s":"CPfS","x":77,"y":660},{"s":"CPfS","x":79,"y":657},{"s":"CPfS","x":81,"y":658},{"s":"CPfS","x":83,"y":655},{"s":"CPfS","x":85,"y":659},{"s":"CPfS","x":87,"y":656},{"s":"CPfS","x":89,"y":654},{"s":"CPfS","x":90,"y":657},{"s":"CPfS","x":91,"y":662},{"s":"CPfS","x":93,"y":667},{"s":"CPfS","x":95,"y":672},{"s":"CPfS","x":96,"y":668},{"s":"CPfS","x":97,"y":670},{"s":"CPfS","x":98,"y":664},{"s":"CPfS","x":100,"y":668},{"s":"CPfS","x":102,"y":665},{"s":"CPfS","x":104,"y":662},{"s":"CPfS","x":106,"y":660},{"s":"CPfS","x":107,"y":660},{"s":"CPfS","x":108,"y":664},{"s":"CPfS","x":110,"y":665},{"s":"CPfS","x":111,"y":670},{"s":"CPfS","x":112,"y":676},{"s":"CPfS","x":113,"y":682},{"s":"CPfS","x":114,"y":675},{"s":"CPfS","x":116,"y":668},{"s":"CPfS","x":118,"y":663},{"s":"CPfS","x":120,"y":660},{"s":"CPfS","x":122,"y":656},{"s":"CPfS","x":124,"y":652},{"s":"CPfS","x":127,"y":647},{"s":"CPfS","x":129,"y":642},{"s":"CPfS","x":131,"y":634},{"s":"CPfS","x":133,"y":627},{"s":"CPfS","x":135,"y":622},{"s":"CPfS","x":137,"y":618},{"s":"CPfS","x":140,"y":613},{"s":"CPfS","x":142,"y":612},{"s":"CPfS","x":144,"y":610},{"s":"CPfS","x":147,"y":607},{"s":"CPfS","x":149,"y":602},{"s":"CPfS","x":151,"y":595},{"s":"CPfS","x":152,"y":590},{"s":"CPfS","x":153,"y":588},{"s":"CPfS","x":154,"y":592},{"s":"CPfS","x":156,"y":598},{"s":"CPfS","x":158,"y":600},{"s":"CPfS","x":160,"y":597},{"s":"CPfS","x":162,"y":598},{"s":"CPfS","x":165,"y":597},{"s":"CPfS","x":167,"y":603},{"s":"CPfS","x":169,"y":610},{"s":"CPfS","x":170,"y":613},{"s":"CPfS","x":172,"y":612},{"s":"CPfS","x":174,"y":617},{"s":"CPfS","x":176,"y":619},{"s":"CPfS","x":177,"y":620},{"s":"CPfS","x":178,"y":630},{"s":"CPfS","x":179,"y":642},{"s":"CPfS","x":180,"y":652},{"s":"CPfS","x":181,"y":632},{"s":"CPfS","x":182,"y":620},{"s":"CPfS","x":183,"y":615},{"s":"CPfS","x":184,"y":630},{"s":"CPfS","x":185,"y":642},{"s":"CPfS","x":186,"y":650},{"s":"CPfS","x":187,"y":652},{"s":"CPfS","x":188,"y":630},{"s":"CPfS","x":189,"y":618},{"s":"CPfS","x":190,"y":610},{"s":"CPfS","x":191,"y":625},{"s":"CPfS","x":192,"y":640},{"s":"CPfS","x":193,"y":652},{"s":"CPfS","x":194,"y":636},{"s":"CPfS","x":195,"y":622},{"s":"CPfS","x":196,"y":617},{"s":"CPfS","x":197,"y":617},{"s":"CPfS","x":198,"y":628},{"s":"CPfS","x":199,"y":636},{"s":"CPfS","x":200,"y":642},{"s":"CPfS","x":201,"y":652},{"s":"CPfS","x":202,"y":663},{"s":"CPfS","x":203,"y":645},{"s":"CPfS","x":204,"y":632},{"s":"CPfS","x":205,"y":627},{"s":"CPfS","x":206,"y":624},{"s":"CPfS","x":207,"y":622},{"s":"CPfS","x":208,"y":620},{"s":"CPfS","x":210,"y":618},{"s":"CPfS","x":212,"y":617},{"s":"CPfS","x":214,"y":610},{"s":"CPfS","x":216,"y":600},{"s":"CPfS","x":218,"y":593},{"s":"CPfS","x":219,"y":596},{"s":"CPfS","x":221,"y":598},{"s":"CPfS","x":223,"y":600},{"s":"CPfS","x":225,"y":601},{"s":"CPfS","x":227,"y":602},{"s":"CPfS","x":229,"y":603},{"s":"CPfS","x":231,"y":604},{"s":"CPfS","x":233,"y":613},
{"s":"CPpW","x":233,"y":523},{"s":"CPpW","x":235,"y":519},{"s":"CPpW","x":237,"y":522},{"s":"CPpW","x":239,"y":518},{"s":"CPpW","x":241,"y":521},{"s":"CPpW","x":243,"y":518},{"s":"CPpW","x":245,"y":521},{"s":"CPpW","x":247,"y":518},{"s":"CPpW","x":249,"y":520},{"s":"CPpW","x":251,"y":517},{"s":"CPpW","x":253,"y":520},{"s":"CPpW","x":255,"y":518},{"s":"CPpW","x":257,"y":521},{"s":"CPpW","x":259,"y":519},{"s":"CPpW","x":261,"y":523},{"s":"CPpW","x":263,"y":520},{"s":"CPpW","x":265,"y":525},{"s":"CPpW","x":267,"y":523},{"s":"CPpW","x":269,"y":527},{"s":"CPpW","x":271,"y":525},{"s":"CPpW","x":273,"y":530},{"s":"CPpW","x":275,"y":528},{"s":"CPpW","x":277,"y":532},{"s":"CPpW","x":279,"y":529},{"s":"CPpW","x":281,"y":533},{"s":"CPpW","x":283,"y":530},{"s":"CPpW","x":285,"y":533},{"s":"CPpW","x":287,"y":528},{"s":"CPpW","x":289,"y":530},{"s":"CPpW","x":291,"y":525},{"s":"CPpW","x":293,"y":528},{"s":"CPpW","x":295,"y":524},{"s":"CPpW","x":297,"y":526},{"s":"CPpW","x":299,"y":521},{"s":"CPpW","x":301,"y":523},{"s":"CPpW","x":303,"y":519},{"s":"CPpW","x":305,"y":522},{"s":"CPpW","x":307,"y":518},{"s":"CPpW","x":309,"y":521},{"s":"CPpW","x":311,"y":517},{"s":"CPpW","x":313,"y":520},{"s":"CPpW","x":315,"y":516},{"s":"CPpW","x":317,"y":514},{"s":"CPpW","x":318,"y":512},{"s":"CPpW","x":319,"y":518},{"s":"CPpW","x":321,"y":523},{"s":"CPpW","x":323,"y":526},{"s":"CPpW","x":325,"y":524},{"s":"CPpW","x":327,"y":528},{"s":"CPpW","x":329,"y":525},{"s":"CPpW","x":331,"y":529},{"s":"CPpW","x":333,"y":527},{"s":"CPpW","x":335,"y":531},{"s":"CPpW","x":337,"y":529},{"s":"CPpW","x":339,"y":532},{"s":"CPpW","x":341,"y":530},{"s":"CPpW","x":343,"y":534},{"s":"CPpW","x":345,"y":532},{"s":"CPpW","x":347,"y":536},{"s":"CPpW","x":349,"y":533},{"s":"CPpW","x":351,"y":530},{"s":"CPpW","x":353,"y":526},{"s":"CPpW","x":355,"y":524},{"s":"CPpW","x":357,"y":521},{"s":"CPpW","x":359,"y":525},{"s":"CPpW","x":361,"y":521},{"s":"CPpW","x":363,"y":524},{"s":"CPpW","x":365,"y":520},{"s":"CPpW","x":367,"y":522},{"s":"CPpW","x":369,"y":518},{"s":"CPpW","x":371,"y":520},{"s":"CPpW","x":373,"y":516},{"s":"CPpW","x":375,"y":519},{"s":"CPpW","x":377,"y":515},{"s":"CPpW","x":379,"y":518},{"s":"CPpW","x":381,"y":516},{"s":"CPpW","x":383,"y":519},{"s":"CPpW","x":385,"y":516},{"s":"CPpW","x":387,"y":520},{"s":"CPpW","x":389,"y":517},{"s":"CPpW","x":391,"y":521},{"s":"CPpW","x":393,"y":518},{"s":"CPpW","x":395,"y":522},{"s":"CPpW","x":397,"y":520},{"s":"CPpW","x":399,"y":524},{"s":"CPpW","x":401,"y":521},{"s":"CPpW","x":403,"y":525},{"s":"CPpW","x":405,"y":523},{"s":"CPpW","x":407,"y":527},{"s":"CPpW","x":409,"y":524},{"s":"CPpW","x":411,"y":529},{"s":"CPpW","x":413,"y":526},{"s":"CPpW","x":415,"y":528},{"s":"CPpW","x":417,"y":524},{"s":"CPpW","x":419,"y":526},{"s":"CPpW","x":421,"y":522},{"s":"CPpW","x":423,"y":524},{"s":"CPpW","x":425,"y":520},{"s":"CPpW","x":427,"y":522},{"s":"CPpW","x":429,"y":518},{"s":"CPpW","x":431,"y":520},{"s":"CPpW","x":433,"y":517},{"s":"CPpW","x":435,"y":516},{"s":"CPpW","x":437,"y":511},{"s":"CPpW","x":438,"y":510},{"s":"CPpW","x":439,"y":512},
{"s":"CPfW","x":233,"y":634},{"s":"CPfW","x":235,"y":630},{"s":"CPfW","x":237,"y":632},{"s":"CPfW","x":239,"y":629},{"s":"CPfW","x":241,"y":631},{"s":"CPfW","x":243,"y":628},{"s":"CPfW","x":245,"y":631},{"s":"CPfW","x":247,"y":629},{"s":"CPfW","x":249,"y":632},{"s":"CPfW","x":251,"y":629},{"s":"CPfW","x":253,"y":631},{"s":"CPfW","x":255,"y":629},{"s":"CPfW","x":257,"y":632},{"s":"CPfW","x":259,"y":630},{"s":"CPfW","x":261,"y":633},{"s":"CPfW","x":263,"y":631},{"s":"CPfW","x":265,"y":634},{"s":"CPfW","x":267,"y":632},{"s":"CPfW","x":269,"y":636},{"s":"CPfW","x":271,"y":633},{"s":"CPfW","x":273,"y":636},{"s":"CPfW","x":275,"y":634},{"s":"CPfW","x":277,"y":637},{"s":"CPfW","x":279,"y":635},{"s":"CPfW","x":281,"y":638},{"s":"CPfW","x":283,"y":636},{"s":"CPfW","x":285,"y":637},{"s":"CPfW","x":287,"y":633},{"s":"CPfW","x":289,"y":634},{"s":"CPfW","x":291,"y":631},{"s":"CPfW","x":293,"y":633},{"s":"CPfW","x":295,"y":629},{"s":"CPfW","x":297,"y":631},{"s":"CPfW","x":299,"y":627},{"s":"CPfW","x":301,"y":629},{"s":"CPfW","x":303,"y":625},{"s":"CPfW","x":305,"y":628},{"s":"CPfW","x":307,"y":626},{"s":"CPfW","x":309,"y":629},{"s":"CPfW","x":311,"y":626},{"s":"CPfW","x":313,"y":628},{"s":"CPfW","x":315,"y":626},{"s":"CPfW","x":317,"y":630},{"s":"CPfW","x":319,"y":628},{"s":"CPfW","x":321,"y":633},{"s":"CPfW","x":323,"y":631},{"s":"CPfW","x":325,"y":635},{"s":"CPfW","x":327,"y":633},{"s":"CPfW","x":329,"y":637},{"s":"CPfW","x":331,"y":636},{"s":"CPfW","x":333,"y":641},{"s":"CPfW","x":335,"y":643},{"s":"CPfW","x":337,"y":641},{"s":"CPfW","x":339,"y":645},{"s":"CPfW","x":341,"y":643},{"s":"CPfW","x":343,"y":647},{"s":"CPfW","x":345,"y":644},{"s":"CPfW","x":347,"y":646},{"s":"CPfW","x":349,"y":642},{"s":"CPfW","x":351,"y":640},{"s":"CPfW","x":353,"y":636},{"s":"CPfW","x":355,"y":638},{"s":"CPfW","x":357,"y":634},{"s":"CPfW","x":359,"y":636},{"s":"CPfW","x":361,"y":632},{"s":"CPfW","x":363,"y":633},{"s":"CPfW","x":365,"y":629},{"s":"CPfW","x":367,"y":630},{"s":"CPfW","x":369,"y":626},{"s":"CPfW","x":371,"y":628},{"s":"CPfW","x":373,"y":624},{"s":"CPfW","x":375,"y":626},{"s":"CPfW","x":377,"y":623},{"s":"CPfW","x":379,"y":626},{"s":"CPfW","x":381,"y":623},{"s":"CPfW","x":383,"y":626},{"s":"CPfW","x":385,"y":624},{"s":"CPfW","x":387,"y":627},{"s":"CPfW","x":389,"y":625},{"s":"CPfW","x":391,"y":629},{"s":"CPfW","x":393,"y":627},{"s":"CPfW","x":395,"y":631},{"s":"CPfW","x":397,"y":630},{"s":"CPfW","x":399,"y":634},{"s":"CPfW","x":401,"y":632},{"s":"CPfW","x":403,"y":636},{"s":"CPfW","x":405,"y":634},{"s":"CPfW","x":407,"y":638},{"s":"CPfW","x":409,"y":636},{"s":"CPfW","x":411,"y":639},{"s":"CPfW","x":413,"y":636},{"s":"CPfW","x":415,"y":638},{"s":"CPfW","x":417,"y":634},{"s":"CPfW","x":419,"y":636},{"s":"CPfW","x":421,"y":633},{"s":"CPfW","x":423,"y":635},{"s":"CPfW","x":425,"y":632},{"s":"CPfW","x":427,"y":634},{"s":"CPfW","x":429,"y":631},{"s":"CPfW","x":431,"y":633},{"s":"CPfW","x":433,"y":629},{"s":"CPfW","x":435,"y":625},{"s":"CPfW","x":437,"y":618},{"s":"CPfW","x":438,"y":615},{"s":"CPfW","x":439,"y":617},
{"s":"CPpN","x":442,"y":540},{"s":"CPpN","x":444,"y":530},{"s":"CPpN","x":446,"y":525},{"s":"CPpN","x":448,"y":520},{"s":"CPpN","x":449,"y":524},{"s":"CPpN","x":451,"y":530},{"s":"CPpN","x":453,"y":532},{"s":"CPpN","x":455,"y":520},{"s":"CPpN","x":457,"y":508},{"s":"CPpN","x":458,"y":503},{"s":"CPpN","x":460,"y":507},{"s":"CPpN","x":462,"y":510},{"s":"CPpN","x":463,"y":513},{"s":"CPpN","x":465,"y":522},{"s":"CPpN","x":467,"y":532},{"s":"CPpN","x":468,"y":536},{"s":"CPpN","x":470,"y":528},{"s":"CPpN","x":472,"y":523},{"s":"CPpN","x":474,"y":520},{"s":"CPpN","x":476,"y":515},{"s":"CPpN","x":478,"y":510},{"s":"CPpN","x":480,"y":503},{"s":"CPpN","x":482,"y":495},{"s":"CPpN","x":483,"y":490},{"s":"CPpN","x":485,"y":492},{"s":"CPpN","x":487,"y":489},{"s":"CPpN","x":489,"y":494},{"s":"CPpN","x":490,"y":492},{"s":"CPpN","x":491,"y":488},{"s":"CPpN","x":492,"y":495},{"s":"CPpN","x":493,"y":487},{"s":"CPpN","x":494,"y":494},{"s":"CPpN","x":495,"y":490},{"s":"CPpN","x":496,"y":500},{"s":"CPpN","x":498,"y":497},{"s":"CPpN","x":500,"y":500},{"s":"CPpN","x":502,"y":503},{"s":"CPpN","x":503,"y":498},{"s":"CPpN","x":505,"y":485},{"s":"CPpN","x":506,"y":476},{"s":"CPpN","x":507,"y":473},{"s":"CPpN","x":508,"y":482},{"s":"CPpN","x":509,"y":492},{"s":"CPpN","x":510,"y":500},{"s":"CPpN","x":511,"y":505},{"s":"CPpN","x":512,"y":498},{"s":"CPpN","x":513,"y":510},{"s":"CPpN","x":515,"y":517},{"s":"CPpN","x":517,"y":513},{"s":"CPpN","x":519,"y":519},{"s":"CPpN","x":521,"y":516},{"s":"CPpN","x":522,"y":520},{"s":"CPpN","x":524,"y":523},{"s":"CPpN","x":525,"y":519},{"s":"CPpN","x":527,"y":525},{"s":"CPpN","x":528,"y":518},{"s":"CPpN","x":530,"y":522},{"s":"CPpN","x":532,"y":513},{"s":"CPpN","x":533,"y":520},{"s":"CPpN","x":535,"y":517},{"s":"CPpN","x":537,"y":510},{"s":"CPpN","x":539,"y":503},{"s":"CPpN","x":541,"y":497},{"s":"CPpN","x":542,"y":493},{"s":"CPpN","x":543,"y":486},{"s":"CPpN","x":545,"y":480},{"s":"CPpN","x":546,"y":477},{"s":"CPpN","x":547,"y":484},{"s":"CPpN","x":548,"y":490},{"s":"CPpN","x":550,"y":493},{"s":"CPpN","x":551,"y":500},{"s":"CPpN","x":552,"y":497},{"s":"CPpN","x":554,"y":505},{"s":"CPpN","x":556,"y":512},{"s":"CPpN","x":557,"y":517},{"s":"CPpN","x":558,"y":514},{"s":"CPpN","x":560,"y":522},{"s":"CPpN","x":561,"y":518},{"s":"CPpN","x":562,"y":528},{"s":"CPpN","x":564,"y":535},{"s":"CPpN","x":566,"y":530},{"s":"CPpN","x":568,"y":526},{"s":"CPpN","x":570,"y":530},{"s":"CPpN","x":571,"y":527},{"s":"CPpN","x":573,"y":533},{"s":"CPpN","x":575,"y":533},{"s":"CPpN","x":577,"y":527},{"s":"CPpN","x":579,"y":525},{"s":"CPpN","x":580,"y":523},{"s":"CPpN","x":582,"y":515},{"s":"CPpN","x":584,"y":507},{"s":"CPpN","x":585,"y":503},{"s":"CPpN","x":587,"y":500},{"s":"CPpN","x":589,"y":502},{"s":"CPpN","x":590,"y":498},{"s":"CPpN","x":592,"y":498},{"s":"CPpN","x":594,"y":497},{"s":"CPpN","x":596,"y":499},{"s":"CPpN","x":598,"y":497},{"s":"CPpN","x":600,"y":496},{"s":"CPpN","x":602,"y":494},{"s":"CPpN","x":604,"y":495},{"s":"CPpN","x":605,"y":493},{"s":"CPpN","x":607,"y":498},{"s":"CPpN","x":609,"y":500},{"s":"CPpN","x":610,"y":503},{"s":"CPpN","x":612,"y":510},{"s":"CPpN","x":614,"y":517},{"s":"CPpN","x":615,"y":520},{"s":"CPpN","x":617,"y":516},{"s":"CPpN","x":619,"y":519},{"s":"CPpN","x":621,"y":517},{"s":"CPpN","x":622,"y":518},{"s":"CPpN","x":624,"y":522},{"s":"CPpN","x":626,"y":520},{"s":"CPpN","x":628,"y":525},{"s":"CPpN","x":630,"y":520},{"s":"CPpN","x":632,"y":522},{"s":"CPpN","x":633,"y":520},{"s":"CPpN","x":635,"y":527},{"s":"CPpN","x":637,"y":531},{"s":"CPpN","x":639,"y":534},{"s":"CPpN","x":640,"y":535},{"s":"CPpN","x":642,"y":533},{"s":"CPpN","x":643,"y":533},{"s":"CPpN","x":645,"y":525},{"s":"CPpN","x":647,"y":518},
{"s":"CPfN","x":440,"y":615},{"s":"CPfN","x":441,"y":628},{"s":"CPfN","x":442,"y":640},{"s":"CPfN","x":444,"y":634},{"s":"CPfN","x":446,"y":631},{"s":"CPfN","x":447,"y":632},{"s":"CPfN","x":449,"y":640},{"s":"CPfN","x":450,"y":645},{"s":"CPfN","x":452,"y":638},{"s":"CPfN","x":454,"y":632},{"s":"CPfN","x":456,"y":628},{"s":"CPfN","x":457,"y":627},{"s":"CPfN","x":459,"y":632},{"s":"CPfN","x":461,"y":636},{"s":"CPfN","x":462,"y":637},{"s":"CPfN","x":464,"y":640},{"s":"CPfN","x":466,"y":638},{"s":"CPfN","x":468,"y":640},{"s":"CPfN","x":470,"y":637},{"s":"CPfN","x":472,"y":636},{"s":"CPfN","x":475,"y":633},{"s":"CPfN","x":477,"y":632},{"s":"CPfN","x":479,"y":630},{"s":"CPfN","x":482,"y":627},{"s":"CPfN","x":484,"y":628},{"s":"CPfN","x":486,"y":624},{"s":"CPfN","x":488,"y":622},{"s":"CPfN","x":490,"y":623},{"s":"CPfN","x":492,"y":620},{"s":"CPfN","x":494,"y":622},{"s":"CPfN","x":495,"y":622},{"s":"CPfN","x":496,"y":616},{"s":"CPfN","x":497,"y":612},{"s":"CPfN","x":498,"y":610},{"s":"CPfN","x":499,"y":616},{"s":"CPfN","x":500,"y":622},{"s":"CPfN","x":501,"y":623},{"s":"CPfN","x":502,"y":620},{"s":"CPfN","x":503,"y":614},{"s":"CPfN","x":505,"y":610},{"s":"CPfN","x":506,"y":622},{"s":"CPfN","x":507,"y":635},{"s":"CPfN","x":508,"y":642},{"s":"CPfN","x":510,"y":647},{"s":"CPfN","x":511,"y":635},{"s":"CPfN","x":512,"y":630},{"s":"CPfN","x":513,"y":627},{"s":"CPfN","x":514,"y":640},{"s":"CPfN","x":516,"y":648},{"s":"CPfN","x":518,"y":651},{"s":"CPfN","x":520,"y":653},{"s":"CPfN","x":521,"y":640},{"s":"CPfN","x":522,"y":630},{"s":"CPfN","x":523,"y":627},{"s":"CPfN","x":524,"y":636},{"s":"CPfN","x":526,"y":642},{"s":"CPfN","x":527,"y":642},{"s":"CPfN","x":528,"y":633},{"s":"CPfN","x":530,"y":627},{"s":"CPfN","x":532,"y":623},{"s":"CPfN","x":533,"y":630},{"s":"CPfN","x":534,"y":636},{"s":"CPfN","x":535,"y":640},{"s":"CPfN","x":536,"y":636},{"s":"CPfN","x":537,"y":634},{"s":"CPfN","x":538,"y":633},{"s":"CPfN","x":539,"y":622},{"s":"CPfN","x":540,"y":612},{"s":"CPfN","x":541,"y":605},{"s":"CPfN","x":542,"y":602},{"s":"CPfN","x":544,"y":605},{"s":"CPfN","x":546,"y":608},{"s":"CPfN","x":547,"y":610},{"s":"CPfN","x":548,"y":615},{"s":"CPfN","x":550,"y":620},{"s":"CPfN","x":551,"y":625},{"s":"CPfN","x":552,"y":632},{"s":"CPfN","x":554,"y":636},{"s":"CPfN","x":556,"y":640},{"s":"CPfN","x":557,"y":640},{"s":"CPfN","x":558,"y":646},{"s":"CPfN","x":560,"y":650},{"s":"CPfN","x":562,"y":652},{"s":"CPfN","x":563,"y":648},{"s":"CPfN","x":564,"y":650},{"s":"CPfN","x":565,"y":655},{"s":"CPfN","x":567,"y":647},{"s":"CPfN","x":568,"y":652},{"s":"CPfN","x":569,"y":656},{"s":"CPfN","x":570,"y":660},{"s":"CPfN","x":571,"y":652},{"s":"CPfN","x":572,"y":645},{"s":"CPfN","x":573,"y":640},{"s":"CPfN","x":575,"y":637},{"s":"CPfN","x":577,"y":634},{"s":"CPfN","x":578,"y":633},{"s":"CPfN","x":580,"y":630},{"s":"CPfN","x":582,"y":628},{"s":"CPfN","x":583,"y":627},{"s":"CPfN","x":585,"y":630},{"s":"CPfN","x":587,"y":626},{"s":"CPfN","x":588,"y":628},{"s":"CPfN","x":590,"y":626},{"s":"CPfN","x":592,"y":628},{"s":"CPfN","x":594,"y":627},{"s":"CPfN","x":595,"y":627},{"s":"CPfN","x":597,"y":625},{"s":"CPfN","x":599,"y":622},{"s":"CPfN","x":600,"y":620},{"s":"CPfN","x":602,"y":616},{"s":"CPfN","x":604,"y":613},{"s":"CPfN","x":605,"y":612},{"s":"CPfN","x":607,"y":615},{"s":"CPfN","x":609,"y":613},{"s":"CPfN","x":610,"y":613},{"s":"CPfN","x":612,"y":618},{"s":"CPfN","x":614,"y":622},{"s":"CPfN","x":615,"y":623},{"s":"CPfN","x":617,"y":620},{"s":"CPfN","x":619,"y":618},{"s":"CPfN","x":620,"y":617},{"s":"CPfN","x":622,"y":620},{"s":"CPfN","x":624,"y":624},{"s":"CPfN","x":625,"y":627},{"s":"CPfN","x":627,"y":630},{"s":"CPfN","x":629,"y":631},{"s":"CPfN","x":632,"y":633},{"s":"CPfN","x":634,"y":628},{"s":"CPfN","x":636,"y":624},{"s":"CPfN","x":637,"y":622},{"s":"CPfN","x":639,"y":625},{"s":"CPfN","x":641,"y":622},{"s":"CPfN","x":643,"y":623},{"s":"CPfN","x":645,"y":621},{"s":"CPfN","x":648,"y":618}
]
},
"layer":[
{"data":{"name":"band"},"mark":{"type":"area","color":"#8c8c8c","opacity":1,"interpolate":"linear"},
 "encoding":{"x":{"field":"x","type":"quantitative","scale":{"domain":[0,648],"nice":false,"zero":false},"axis":null},
 "y":{"field":"t","type":"quantitative","scale":{"domain":[0,684],"reverse":true,"nice":false,"zero":false},"axis":null},
 "y2":{"field":"b"},"detail":{"field":"s"}}},
{"data":{"name":"band"},"mark":{"type":"rule","color":"#4e4e4e","strokeWidth":0.6},
 "encoding":{"x":{"field":"x","type":"quantitative","scale":{"domain":[0,648],"nice":false,"zero":false},"axis":null},
 "y":{"field":"t","type":"quantitative","scale":{"domain":[0,684],"reverse":true,"nice":false,"zero":false},"axis":null},
 "y2":{"field":"b"}}},
{"data":{"name":"tr"},"mark":{"type":"line","color":"#5e5e5e","strokeWidth":1,"interpolate":"linear"},
 "encoding":{"x":{"field":"x","type":"quantitative","scale":{"domain":[0,648],"nice":false,"zero":false},"axis":null},
 "y":{"field":"y","type":"quantitative","scale":{"domain":[0,684],"reverse":true,"nice":false,"zero":false},"axis":null},
 "detail":{"field":"s"},"order":{"field":"x","type":"quantitative"}}},
{"data":{"name":"div"},"mark":{"type":"rule","color":"#2a2a2a","strokeWidth":1.5},
 "encoding":{"x":{"field":"x","type":"quantitative","scale":{"domain":[0,648],"nice":false,"zero":false},"axis":null},
 "y":{"field":"y","type":"quantitative","scale":{"domain":[0,684],"reverse":true,"nice":false,"zero":false},"axis":null},
 "y2":{"field":"y2"}}},
{"data":{"name":"bars"},"mark":{"type":"rule","color":"#111111","strokeWidth":2.5},
 "encoding":{"x":{"field":"x","type":"quantitative","scale":{"domain":[0,648],"nice":false,"zero":false},"axis":null},
 "y":{"field":"y","type":"quantitative","scale":{"domain":[0,684],"reverse":true,"nice":false,"zero":false},"axis":null},
 "x2":{"field":"x2"},"y2":{"field":"y2"}}},
{"data":{"name":"arrows"},"mark":{"type":"rule","color":"#000000","strokeWidth":1.8},
 "encoding":{"x":{"field":"x","type":"quantitative","scale":{"domain":[0,648],"nice":false,"zero":false},"axis":null},
 "y":{"field":"y","type":"quantitative","scale":{"domain":[0,684],"reverse":true,"nice":false,"zero":false},"axis":null},
 "x2":{"field":"x2"},"y2":{"field":"y2"}}},
{"data":{"name":"arrows"},"mark":{"type":"point","shape":"triangle","filled":true,"color":"#000000","size":45,"angle":204,"opacity":1},
 "encoding":{"x":{"field":"x2","type":"quantitative","scale":{"domain":[0,648],"nice":false,"zero":false},"axis":null},
 "y":{"field":"y2","type":"quantitative","scale":{"domain":[0,684],"reverse":true,"nice":false,"zero":false},"axis":null}}},
{"data":{"name":"heads"},"mark":{"type":"point","shape":"triangle","filled":true,"color":"#000000","size":40,"angle":210,"opacity":1},
 "encoding":{"x":{"field":"x","type":"quantitative","scale":{"domain":[0,648],"nice":false,"zero":false},"axis":null},
 "y":{"field":"y","type":"quantitative","scale":{"domain":[0,684],"reverse":true,"nice":false,"zero":false},"axis":null}}},
{"data":{"name":"titles"},"mark":{"type":"text","font":"Liberation Serif","fontSize":24,"align":"center","baseline":"alphabetic","color":"#000000"},
 "encoding":{"x":{"field":"x","type":"quantitative","scale":{"domain":[0,648],"nice":false,"zero":false},"axis":null},
 "y":{"field":"y","type":"quantitative","scale":{"domain":[0,684],"reverse":true,"nice":false,"zero":false},"axis":null},
 "text":{"field":"t"}}},
{"data":{"name":"letters"},"mark":{"type":"text","font":"Liberation Serif","fontSize":24,"align":"left","baseline":"alphabetic","color":"#000000"},
 "encoding":{"x":{"field":"x","type":"quantitative","scale":{"domain":[0,648],"nice":false,"zero":false},"axis":null},
 "y":{"field":"y","type":"quantitative","scale":{"domain":[0,684],"reverse":true,"nice":false,"zero":false},"axis":null},
 "text":{"field":"t"}}},
{"data":{"name":"chans"},"mark":{"type":"text","font":"Liberation Serif","fontSize":15,"align":"left","baseline":"alphabetic","color":"#000000"},
 "encoding":{"x":{"field":"x","type":"quantitative","scale":{"domain":[0,648],"nice":false,"zero":false},"axis":null},
 "y":{"field":"y","type":"quantitative","scale":{"domain":[0,684],"reverse":true,"nice":false,"zero":false},"axis":null},
 "text":{"field":"t"}}}
]
}
